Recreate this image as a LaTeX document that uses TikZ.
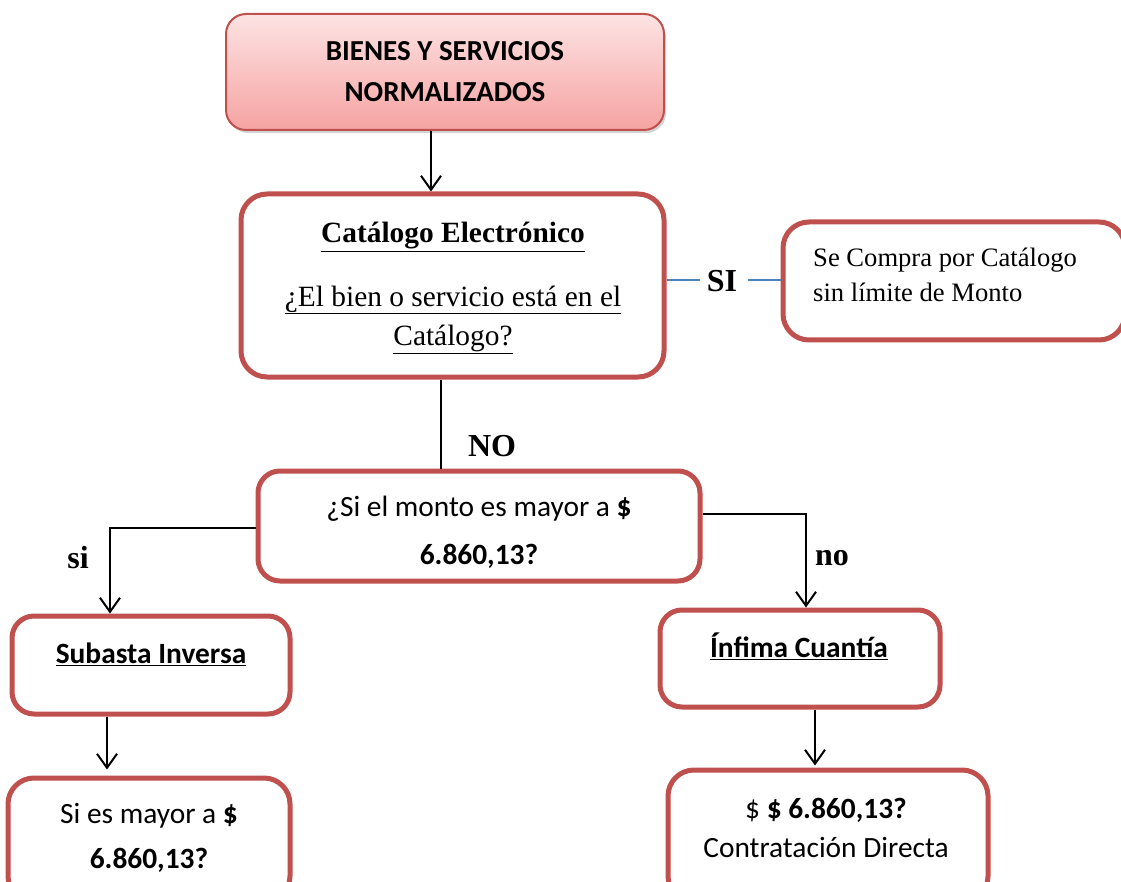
\documentclass[tikz,border=0pt]{standalone}
\usepackage{fontspec}
\setmainfont{Liberation Serif}
\newfontfamily\calfont{Carlito}
\usetikzlibrary{arrows.meta,shadows}
\definecolor{boxred}{HTML}{C0504D}
\definecolor{lineblue}{HTML}{4F81BD}
\definecolor{pinktop}{HTML}{FDE3E3}
\definecolor{pinkbot}{HTML}{F5A3A2}
\begin{document}
\begin{tikzpicture}[x=1pt,y=-1pt,
  redbox/.style={draw=boxred, line width=5pt, rounded corners=26pt, fill=white, inner sep=0pt, rectangle},
  topbox/.style={draw=boxred, line width=2pt, rounded corners=20pt, top color=pinktop, bottom color=pinkbot, inner sep=0pt, rectangle,
    drop shadow={opacity=0.35, shadow xshift=2pt, shadow yshift=-3pt}},
  conn/.style={black, line width=2pt},
  arr/.style={conn, -{Straight Barb[length=14pt,width=20pt,line width=2pt]}},
  calt/.style={font=\calfont\fontsize{29.4}{45}\selectfont, align=center, inner sep=0pt},
  sert/.style={font=\fontsize{29.4}{40}\selectfont, align=center, inner sep=0pt},
  lab/.style={font=\bfseries\fontsize{32}{36}\selectfont, inner sep=0pt},
]
\useasboundingbox (0,0) rectangle (1121,882);
\clip (0,0) rectangle (1121,882);

% boxes
\node[topbox, minimum width=438pt, minimum height=116pt] (top) at (445,72) {};
\node[redbox, minimum width=423pt, minimum height=183pt] (cat) at (452.5,285.5) {};
\node[redbox, minimum width=342pt, minimum height=118pt] (comp) at (954,281) {};
\node[redbox, minimum width=442pt, minimum height=110pt, rounded corners=22pt] (mid) at (479,526) {};
\node[redbox, minimum width=278pt, minimum height=98pt, rounded corners=22pt] (sub) at (151,665) {};
\node[redbox, minimum width=280pt, minimum height=97pt, rounded corners=22pt] (inf) at (800,658.5) {};
\node[redbox, minimum width=282pt, minimum height=124pt, rounded corners=26pt] (bl) at (149,840) {};
\node[redbox, minimum width=320pt, minimum height=132pt, rounded corners=26pt] (br) at (828,836) {};

% texts
\node[calt, font=\calfont\bfseries\fontsize{29}{41}\selectfont] (toptxt) at (445,71.5) {BIENES Y SERVICIOS\\NORMALIZADOS};
\node[sert, font=\bfseries\fontsize{29.4}{36}\selectfont] (cat1) at (453,237) {\underline{Catálogo Electrónico}};
\node[sert] (cat2) at (453,300) {\underline{¿El bien o servicio está en el}};
\node[sert] (cat3) at (453,339) {\underline{Catálogo?}};
\node[font=\fontsize{26.6}{35}\selectfont, align=left, anchor=west, inner sep=0pt] (comptxt) at (813,274.5) {Se Compra por Catálogo\\sin límite de Monto};
\node[calt, font=\calfont\fontsize{29.4}{48}\selectfont] (midtxt) at (479,532.5) {¿Si el monto es mayor a \textbf{\$}\\\textbf{6.860,13?}};
\node[calt] (subtxt) at (151,654) {\textbf{\underline{Subasta Inversa}}};
\node[calt] (inftxt) at (799,646) {\textbf{\underline{Ínfima Cuantía}}};
\node[calt] (bltxt) at (149,837.5) {Si es mayor a \textbf{\$}\\\textbf{6.860,13?}};
\node[calt, font=\calfont\fontsize{29.4}{39}\selectfont] (brtxt) at (826,827.5) {\$ \textbf{\$ 6.860,13?}\\Contratación Directa};

% connectors
\draw[arr] ([xshift=-14pt]top.south) -- ([xshift=-14pt]top.south |- cat.north);
\node[lab] (si) at (722,281) {SI};
\draw[lineblue, line width=1.5pt] (cat.east |- 0,280) -- ([xshift=-7pt]si.west |- 0,280);
\draw[lineblue, line width=1.5pt] ([xshift=11pt]si.east |- 0,280) -- (comp.west |- 0,280);
\draw[conn] ([xshift=-11.5pt]cat.south) -- ([xshift=-11.5pt]cat.south |- mid.north);
\node[lab] (no) at (492,446) {NO};
\draw[arr] ([yshift=-2pt]mid.west) -| ([xshift=-41pt]sub.north);
\node[lab] (sil) at (78,558) {si};
\draw[arr] ([yshift=12pt]mid.east) -| ([xshift=6pt]inf.north);
\node[lab] (nol) at (832,558) {no};
\draw[arr] ([xshift=-44pt]sub.south) -- ([xshift=-44pt,yshift=6pt]sub.south |- bl.north);
\draw[arr] ([xshift=15pt]inf.south) -- ([xshift=15pt,yshift=2pt]inf.south |- br.north);
\end{tikzpicture}
\end{document}
